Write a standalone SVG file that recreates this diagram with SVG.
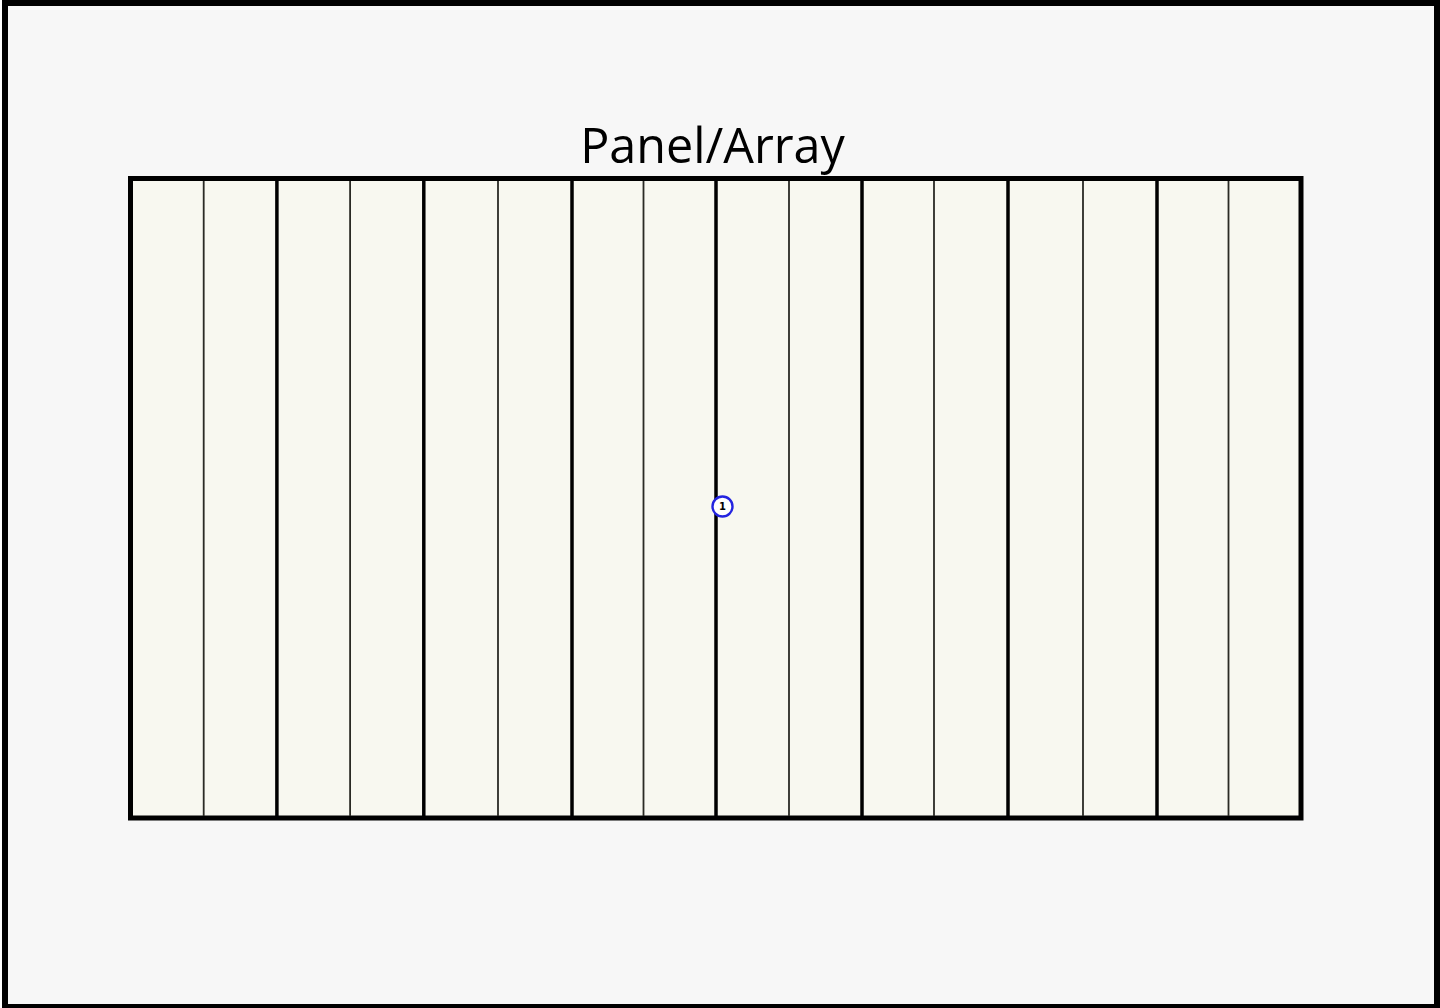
<svg xmlns="http://www.w3.org/2000/svg" width="1440" height="1008" viewBox="0 0 1440 1008">
<style>
.frame{fill:#f7f7f7;stroke:#000;stroke-width:6}
.panel{fill:#f8f8f0;stroke:#000;stroke-width:5}
.thick{stroke:#000;stroke-width:3.5}
.thin{stroke:#2a2a24;stroke-width:1.8}
.title{font-family:"Open Sans","Liberation Sans",sans-serif;font-size:48.5px;fill:#000}
.mk{fill:#fff;stroke:#2424e0;stroke-width:2.4}
.mkt{font-family:"DejaVu Sans","Liberation Sans",sans-serif;font-size:10px;font-weight:bold;fill:#000}
</style>
<rect class="frame" x="5" y="3" width="1432" height="1004"/>
<text class="title" x="712.5" y="163" text-anchor="middle">Panel/Array</text>
<g id="panel-array">
<rect class="panel" x="130.5" y="178.5" width="1170.5" height="639.5"/>
</g>
<g id="dividers">
<line class="thin" x1="203.7" y1="181" x2="203.7" y2="816"/>
<line class="thick" x1="276.9" y1="181" x2="276.9" y2="816"/>
<line class="thin" x1="350.1" y1="181" x2="350.1" y2="816"/>
<line class="thick" x1="423.8" y1="181" x2="423.8" y2="816"/>
<line class="thin" x1="498" y1="181" x2="498" y2="816"/>
<line class="thick" x1="572" y1="181" x2="572" y2="816"/>
<line class="thin" x1="643.5" y1="181" x2="643.5" y2="816"/>
<line class="thick" x1="716" y1="181" x2="716" y2="816"/>
<line class="thin" x1="789" y1="181" x2="789" y2="816"/>
<line class="thick" x1="862" y1="181" x2="862" y2="816"/>
<line class="thin" x1="934" y1="181" x2="934" y2="816"/>
<line class="thick" x1="1008" y1="181" x2="1008" y2="816"/>
<line class="thin" x1="1083" y1="181" x2="1083" y2="816"/>
<line class="thick" x1="1157" y1="181" x2="1157" y2="816"/>
<line class="thin" x1="1228.5" y1="181" x2="1228.5" y2="816"/>
</g>
<g id="marker-1">
<circle class="mk" cx="722.5" cy="506.5" r="10"/>
<text class="mkt" x="722.5" y="510" text-anchor="middle">1</text>
</g>
</svg>
